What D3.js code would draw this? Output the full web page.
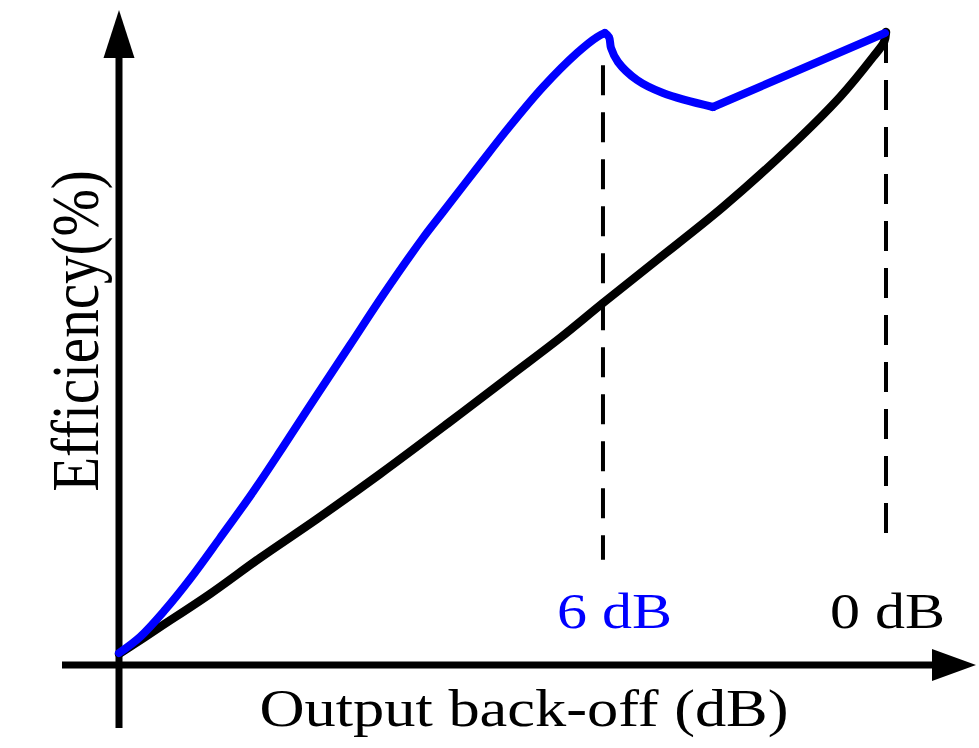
<!DOCTYPE html>
<html>
<head>
<meta charset="utf-8">
<script src="https://cdn.jsdelivr.net/npm/d3@7"></script>
<style>
  html, body { margin: 0; padding: 0; background: #fff; }
  svg { display: block; }
  text { font-family: "Liberation Serif", "Times New Roman", serif; }
</style>
</head>
<body>
<svg id="chart" width="979" height="748"></svg>
<script>
// ---- data (x: normalized back-off position, y: efficiency %) ----
const classX = [0, 5.35, 11.86, 18.38, 25.81, 34.03, 42.76, 50.98, 57.50, 63.10, 70.14, 78.75, 87.48, 94.00, 98.31, 99.74, 100];
const classY = [1.74, 5.99, 11.20, 16.88, 23.03, 30.13, 38.01, 45.58, 51.58, 57.10, 63.88, 72.24, 81.70, 89.59, 95.90, 98.26, 99.84];

const dohRiseX = [0, 2.74, 6.00, 9.26, 13.17, 17.47, 21.38, 25.81, 30.12, 34.42, 39.63, 42.24, 46.68, 50.98, 55.28, 59.71, 62.32, 63.36];
const dohRiseY = [1.89, 4.42, 8.68, 13.56, 20.03, 27.29, 34.38, 42.59, 50.47, 58.36, 67.35, 71.45, 78.39, 85.02, 91.17, 96.53, 99.05, 99.68];
const dohDipX = [63.36, 63.89, 64.15, 65.06, 67.54, 70.93, 77.44];
const dohDipY = [99.68, 99.05, 97.32, 95.11, 92.27, 90.22, 88.01];
const dohTailX = [77.44, 99.87];
const dohTailY = [88.01, 99.68];

const tickLabels = ["6 dB", "0 dB"];
const tickValues = [63.1, 100];
const tickColors = ["#0000ff", "#000000"];
const dashTop = [94.6, 99.7];
const dashBottom = [16.6, 19.7];

const xTitle = "Output back-off (dB)";
const yTitle = "Efficiency(%)";

// ---- drawing ----
const svg = d3.select("#chart");
const x = d3.scaleLinear().domain([0, 100]).range([119, 886]);
const y = d3.scaleLinear().domain([0, 100]).range([665, 31]);

const zip = (xs, ys) => xs.map((v, i) => [v, ys[i]]);
const line = d3.line().x(d => x(d[0])).y(d => y(d[1])).curve(d3.curveCatmullRom.alpha(0.5));

// dashed reference lines
tickValues.forEach((v, i) => {
  svg.append("line")
    .attr("x1", x(v)).attr("x2", x(v))
    .attr("y1", y(dashTop[i])).attr("y2", y(dashBottom[i]))
    .attr("stroke", "#000").attr("stroke-width", 4)
    .attr("stroke-dasharray", "30,17");
});

// axes
const x0 = x(0), yAxisY = y(0);
svg.append("line").attr("x1", x0).attr("x2", x0).attr("y1", yAxisY + 63).attr("y2", 56)
  .attr("stroke", "#000").attr("stroke-width", 7);
svg.append("path").attr("d", `M${x0},10 L${x0 - 15.5},58 L${x0 + 15.5},58 Z`).attr("fill", "#000");
svg.append("line").attr("x1", 62).attr("x2", 934).attr("y1", yAxisY).attr("y2", yAxisY)
  .attr("stroke", "#000").attr("stroke-width", 7);
svg.append("path").attr("d", `M976,${yAxisY} L932,${yAxisY - 16} L932,${yAxisY + 16} Z`).attr("fill", "#000");

// curves
svg.append("path").attr("d", line(zip(classX, classY)))
  .attr("fill", "none").attr("stroke", "#000").attr("stroke-width", 8.5)
  .attr("stroke-linecap", "round").attr("stroke-linejoin", "round");

[[dohRiseX, dohRiseY], [dohDipX, dohDipY], [dohTailX, dohTailY]].forEach(([xs, ys]) => {
  svg.append("path").attr("d", line(zip(xs, ys)))
    .attr("fill", "none").attr("stroke", "#0000ff").attr("stroke-width", 8)
    .attr("stroke-linecap", "round").attr("stroke-linejoin", "round");
});

// tick labels
const labelX = [614.5 - x(tickValues[0]), 887.5 - x(tickValues[1])];
tickLabels.forEach((t, i) => {
  svg.append("text")
    .attr("transform", `translate(${x(tickValues[i]) + labelX[i]},628) scale(1.2,1)`)
    .attr("text-anchor", "middle").attr("font-size", 50)
    .attr("fill", tickColors[i]).text(t);
});

// axis titles
svg.append("text").attr("transform", "translate(524,726) scale(1.2,1)")
  .attr("text-anchor", "middle").attr("font-size", 52).attr("fill", "#000").text(xTitle);
svg.append("text").attr("transform", "translate(98,331) scale(1.2,1) rotate(-90)")
  .attr("text-anchor", "middle").attr("font-size", 57).attr("fill", "#000").text(yTitle);
</script>
</body>
</html>
